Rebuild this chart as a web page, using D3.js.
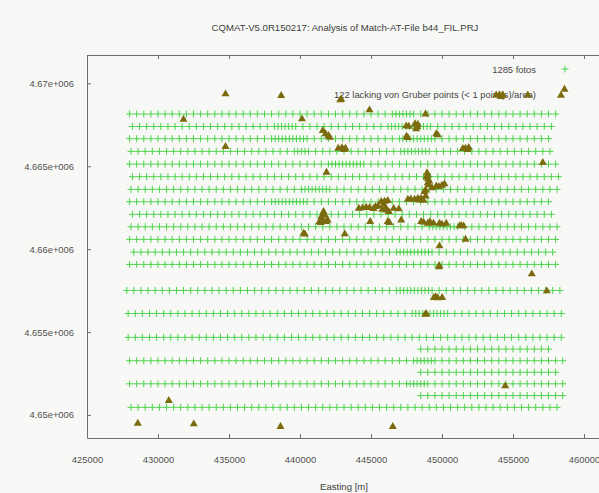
<!DOCTYPE html>
<html>
<head>
<meta charset="utf-8">
<script src="https://cdn.jsdelivr.net/npm/d3@7"></script>
<style>
  html, body { margin: 0; padding: 0; background: #f8f9f6; }
  svg { display: block; }
  text { font-family: "Liberation Sans", Arial, sans-serif; }
</style>
</head>
<body>
<svg id="chart" width="599" height="493"></svg>
<script>
// ---- Labels -------------------------------------------------------------
const chartTitle = "CQMAT-V5.0R150217: Analysis of Match-AT-File b44_FIL.PRJ";
const xAxisTitle = "Easting [m]";
const xTickValues = [425000, 430000, 435000, 440000, 445000, 450000, 455000, 460000];
const yTickValues = [4650000, 4655000, 4660000, 4665000, 4670000];
const yTickLabels = ["4.65e+006", "4.655e+006", "4.66e+006", "4.665e+006", "4.67e+006"];
const legendLabels = ["1285 fotos", "122 lacking von Gruber points (< 1 point(s)/area)"];

// ---- Photo centres: one northing per flight strip, eastings in km -------
const stripNorthing = [
  4668150, 4667400, 4666660, 4665900, 4665130, 4664370, 4663610, 4662860, 4662100,
  4661350, 4660590, 4659820, 4659080,
  4657510, 4656120, 4654680, 4653270, 4651880, 4650460,
  4653975, 4652575, 4651170
];

const stripEastingKm = [
  [428,428.5,429,429.5,430,430.5,431,431.5,432,432.5,433,433.5,434,434.5,435,435.5,436,436.5,437,437.5,438,438.5,439,439.5,440,440.5,441,441.5,442,442.5,443,443.5,444,444.5,445,445.5,446,446.5,447,447.5,448,448.5,449,449.5,450,450.5,451,451.5,452,452.5,453,453.5,454,454.5,455,455.5,456,456.5,457,457.5,458,
   446.75,447.25,447.75],
  [428.2,428.7,429.2,429.7,430.2,430.7,431.2,431.7,432.2,432.7,433.2,433.7,434.2,434.7,435.2,435.7,436.2,436.7,437.2,437.7,438.2,438.7,439.2,439.7,440.2,440.7,441.2,441.7,442.2,442.7,443.2,443.7,444.2,444.7,445.2,445.7,446.2,446.7,447.2,447.7,448.2,448.7,449.2,449.7,450.2,450.7,451.2,451.7,452.2,452.7,453.2,453.7,454.2,454.7,455.2,455.7,456.2,456.7,457.2,457.7,
   438.45,438.95,439.45,446.45,446.95,447.45,447.95,448.45,448.95],
  [428,428.5,429,429.5,430,430.5,431,431.5,432,432.5,433,433.5,434,434.5,435,435.5,436,436.5,437,437.5,438,438.5,439,439.5,440,440.5,441,441.5,442,442.5,443,443.5,444,444.5,445,445.5,446,446.5,447,447.5,448,448.5,449,449.5,450,450.5,451,451.5,452,452.5,453,453.5,454,454.5,455,455.5,456,456.5,457,457.5,
   438.25,438.75,439.25,439.75,440.25,447.25,447.75,448.25,448.75,449.25],
  [428.1,428.6,429.1,429.6,430.1,430.6,431.1,431.6,432.1,432.6,433.1,433.6,434.1,434.6,435.1,435.6,436.1,436.6,437.1,437.6,438.1,438.6,439.1,439.6,440.1,440.6,441.1,441.6,442.1,442.6,443.1,443.6,444.1,444.6,445.1,445.6,446.1,446.6,447.1,447.6,448.1,448.6,449.1,449.6,450.1,450.6,451.1,451.6,452.1,452.6,453.1,453.6,454.1,454.6,455.1,455.6,456.1,456.6,457.1,457.6,
   439.85,440.35,447.35,447.85,448.35,448.85],
  [428,428.5,429,429.5,430,430.5,431,431.5,432,432.5,433,433.5,434,434.5,435,435.5,436,436.5,437,437.5,438,438.5,439,439.5,440,440.5,441,441.5,442,442.5,443,443.5,444,444.5,445,445.5,446,446.5,447,447.5,448,448.5,449,449.5,450,450.5,451,451.5,452,452.5,453,453.5,454,454.5,455,455.5,456,456.5,457,457.5,458,
   442.25,442.75,443.25,443.75,444.25],
  [428.2,428.7,429.2,429.7,430.2,430.7,431.2,431.7,432.2,432.7,433.2,433.7,434.2,434.7,435.2,435.7,436.2,436.7,437.2,437.7,438.2,438.7,439.2,439.7,440.2,440.7,441.2,441.7,442.2,442.7,443.2,443.7,444.2,444.7,445.2,445.7,446.2,446.7,447.2,447.7,448.2,448.7,449.2,449.7,450.2,450.7,451.2,451.7,452.2,452.7,453.2,453.7,454.2,454.7,455.2,455.7,456.2,456.7,457.2,457.7,458.2],
  [428.1,428.6,429.1,429.6,430.1,430.6,431.1,431.6,432.1,432.6,433.1,433.6,434.1,434.6,435.1,435.6,436.1,436.6,437.1,437.6,438.1,438.6,439.1,439.6,440.1,440.6,441.1,441.6,442.1,442.6,443.1,443.6,444.1,444.6,445.1,445.6,446.1,446.6,447.1,447.6,448.1,448.6,449.1,449.6,450.1,450.6,451.1,451.6,452.1,452.6,453.1,453.6,454.1,454.6,455.1,455.6,456.1,456.6,457.1,457.6,458.1,
   440.35,440.85,441.35,441.85],
  [428,428.5,429,429.5,430,430.5,431,431.5,432,432.5,433,433.5,434,434.5,435,435.5,436,436.5,437,437.5,438,438.5,439,439.5,440,440.5,441,441.5,442,442.5,443,443.5,444,444.5,445,445.5,446,446.5,447,447.5,448,448.5,449,449.5,450,450.5,451,451.5,452,452.5,453,453.5,454,454.5,455,455.5,456,456.5,457,457.5,
   438.25,438.75,439.25,439.75,440.25],
  [428.2,428.7,429.2,429.7,430.2,430.7,431.2,431.7,432.2,432.7,433.2,433.7,434.2,434.7,435.2,435.7,436.2,436.7,437.2,437.7,438.2,438.7,439.2,439.7,440.2,440.7,441.2,441.7,442.2,442.7,443.2,443.7,444.2,444.7,445.2,445.7,446.2,446.7,447.2,447.7,448.2,448.7,449.2,449.7,450.2,450.7,451.2,451.7,452.2,452.7,453.2,453.7,454.2,454.7,455.2,455.7,456.2,456.7,457.2,457.7],
  [428.1,428.6,429.1,429.6,430.1,430.6,431.1,431.6,432.1,432.6,433.1,433.6,434.1,434.6,435.1,435.6,436.1,436.6,437.1,437.6,438.1,438.6,439.1,439.6,440.1,440.6,441.1,441.6,442.1,442.6,443.1,443.6,444.1,444.6,445.1,445.6,446.1,446.6,447.1,447.6,448.1,448.6,449.1,449.6,450.1,450.6,451.1,451.6,452.1,452.6,453.1,453.6,454.1,454.6,455.1,455.6,456.1,456.6,457.1,457.6,458.1,
   449.35,449.85,450.35,450.85],
  [428,428.5,429,429.5,430,430.5,431,431.5,432,432.5,433,433.5,434,434.5,435,435.5,436,436.5,437,437.5,438,438.5,439,439.5,440,440.5,441,441.5,442,442.5,443,443.5,444,444.5,445,445.5,446,446.5,447,447.5,448,448.5,449,449.5,450,450.5,451,451.5,452,452.5,453,453.5,454,454.5,455,455.5,456,456.5,457,457.5,458],
  [428.3,428.8,429.3,429.8,430.3,430.8,431.3,431.8,432.3,432.8,433.3,433.8,434.3,434.8,435.3,435.8,436.3,436.8,437.3,437.8,438.3,438.8,439.3,439.8,440.3,440.8,441.3,441.8,442.3,442.8,443.3,443.8,444.3,444.8,445.3,445.8,446.3,446.8,447.3,447.8,448.3,448.8,449.3,449.8,450.3,450.8,451.3,451.8,452.3,452.8,453.3,453.8,454.3,454.8,455.3,455.8,456.3,456.8,457.3,457.8,
   447.05,447.55,448.05,448.55,449.05],
  [428,428.5,429,429.5,430,430.5,431,431.5,432,432.5,433,433.5,434,434.5,435,435.5,436,436.5,437,437.5,438,438.5,439,439.5,440,440.5,441,441.5,442,442.5,443,443.5,444,444.5,445,445.5,446,446.5,447,447.5,448,448.5,449,449.5,450,450.5,451,451.5,452,452.5,453,453.5,454,454.5,455,455.5,456,456.5,457,457.5,458],
  [427.8,428.3,428.8,429.3,429.8,430.3,430.8,431.3,431.8,432.3,432.8,433.3,433.8,434.3,434.8,435.3,435.8,436.3,436.8,437.3,437.8,438.3,438.8,439.3,439.8,440.3,440.8,441.3,441.8,442.3,442.8,443.3,443.8,444.3,444.8,445.3,445.8,446.3,446.8,447.3,447.8,448.3,448.8,449.3,449.8,450.3,450.8,451.3,451.8,452.3,452.8,453.3,453.8,454.3,454.8,455.3,455.8,456.3,456.8,457.3,457.8,458.3,
   447.05,447.55,448.05,448.55,449.05],
  [427.9,428.4,428.9,429.4,429.9,430.4,430.9,431.4,431.9,432.4,432.9,433.4,433.9,434.4,434.9,435.4,435.9,436.4,436.9,437.4,437.9,438.4,438.9,439.4,439.9,440.4,440.9,441.4,441.9,442.4,442.9,443.4,443.9,444.4,444.9,445.4,445.9,446.4,446.9,447.4,447.9,448.4,448.9,449.4,449.9,450.4,450.9,451.4,451.9,452.4,452.9,453.4,453.9,454.4,454.9,455.4,455.9,456.4,456.9,457.4,457.9,458.4,
   448.15,448.65,449.15,449.65,450.15],
  [427.9,428.4,428.9,429.4,429.9,430.4,430.9,431.4,431.9,432.4,432.9,433.4,433.9,434.4,434.9,435.4,435.9,436.4,436.9,437.4,437.9,438.4,438.9,439.4,439.9,440.4,440.9,441.4,441.9,442.4,442.9,443.4,443.9,444.4,444.9,445.4,445.9,446.4,446.9,447.4,447.9,448.4,448.9,449.4,449.9,450.4,450.9,451.4,451.9,452.4,452.9,453.4,453.9,454.4,454.9,455.4,455.9,456.4,456.9,457.4,457.9,458.4],
  [428,428.5,429,429.5,430,430.5,431,431.5,432,432.5,433,433.5,434,434.5,435,435.5,436,436.5,437,437.5,438,438.5,439,439.5,440,440.5,441,441.5,442,442.5,443,443.5,444,444.5,445,445.5,446,446.5,447,447.5,448,448.5,449,449.5,450,450.5,451,451.5,452,452.5,453,453.5,454,454.5,455,455.5,456,456.5,457,457.5,458,458.5,
   448.25,448.75,449.25],
  [428,428.5,429,429.5,430,430.5,431,431.5,432,432.5,433,433.5,434,434.5,435,435.5,436,436.5,437,437.5,438,438.5,439,439.5,440,440.5,441,441.5,442,442.5,443,443.5,444,444.5,445,445.5,446,446.5,447,447.5,448,448.5,449,449.5,450,450.5,451,451.5,452,452.5,453,453.5,454,454.5,455,455.5,456,456.5,457,457.5,458,458.5,
   447.75,448.25,448.75],
  [428.1,428.6,429.1,429.6,430.1,430.6,431.1,431.6,432.1,432.6,433.1,433.6,434.1,434.6,435.1,435.6,436.1,436.6,437.1,437.6,438.1,438.6,439.1,439.6,440.1,440.6,441.1,441.6,442.1,442.6,443.1,443.6,444.1,444.6,445.1,445.6,446.1,446.6,447.1,447.6,448.1,448.6,449.1,449.6,450.1,450.6,451.1,451.6,452.1,452.6,453.1,453.6,454.1,454.6,455.1,455.6,456.1,456.6,457.1,457.6,458.1],
  [448.5,449,449.5,450,450.5,451,451.5,452,452.5,453,453.5,454,454.5,455,455.5,456,456.5,457,457.5],
  [448.5,449,449.5,450,450.5,451,451.5,452,452.5,453,453.5,454,454.5,455,455.5,456,456.5,457,457.5,458],
  [448.5,449,449.5,450,450.5,451,451.5,452,452.5,453,453.5,454,454.5,455,455.5,456,456.5,457,457.5,458,458.5]
];

// ---- Photos lacking von Gruber points (easting / northing, m) -----------
const lackEasting = [
  434754,438676,442831,444894,448838,453817,454282,456042,458627,431796,
  440141,441606,442099,447479,448296,448183,449704,447592,434754,442697,
  443204,451465,451888,457099,441866,449000,449000,449000,449775,450176,
  448768,447592,448064,448535,448697,445718,446183,444141,444662,445176,
  445317,446021,446254,446958,441655,441373,441845,444944,446183,447127,
  448535,449000,449824,450296,451233,451514,440247,443155,451655,449824,
  449789,456324,457380,449423,450014,448817,454451,446535,430761,428577,
  432521,438627,
  448900,449100,448950,449050,
  441500,441600,441750,441450,441950,
  444400,444900,445500,445800,446100,446600,445900,
  447800,448300,448400,448850,
  445950,
  446300,448700,449400,450000,451350,449150,
  447650,448250,448100,447500,449600,
  441800,442000,
  442950,443100,
  451650,451800,
  454050,454150,
  449600,450000,448850,449300,
  440350,
  449700,449550,
  449800,
  448900,
  442900
];
const lackNorthing = [
  4669355,4669252,4668993,4668390,4668148,4669294,4669294,4669294,4669638,4667829,
  4667847,4667141,4666743,4667425,4667527,4667244,4666882,4666719,4666176,4666080,
  4666080,4666056,4666116,4665211,4664632,4664469,4664228,4663987,4663764,4663927,
  4663462,4663004,4663004,4663064,4662932,4662859,4662919,4662461,4662521,4662437,
  4662557,4662461,4662256,4662419,4662256,4661653,4661653,4661653,4661653,4661755,
  4661653,4661557,4661557,4661557,4661394,4661394,4660953,4660911,4660591,4660187,
  4658921,4658499,4657473,4657069,4657069,4656068,4651744,4649289,4650857,4649495,
  4649452,4649289,
  4664350,4664100,4664600,4663880,
  4661950,4661700,4662050,4661600,4661750,
  4662480,4662500,4662600,4662400,4662350,4662450,4662700,
  4663020,4663040,4662950,4663200,
  4662880,
  4661600,4661620,4661560,4661500,4661420,4661650,
  4667400,4667380,4667560,4666800,4666950,
  4666950,4666850,
  4666100,4666000,
  4666080,4666000,
  4669300,4669200,
  4663800,4663850,4663550,4663700,
  4660900,
  4657060,4657120,
  4659000,
  4656100,
  4669050
];

// ---- Layout ---------------------------------------------------------------
const W = 599, H = 493;
const plot = { left: 87, top: 55, bottom: 438 };
const photoColor = "#4ad24a";
const lackColor = "#7b6b0e";
const axisColor = "#6e6e6e";
const labelColor = "#505050";
const fontSize = 9.4;

const x = d3.scaleLinear().domain([425000, 462000]).range([plot.left, plot.left + 37000 / 5000 * 71]);
const y = d3.scaleLinear().domain([4648610, 4671710]).range([plot.bottom, plot.top]);

const svg = d3.select("#chart");
svg.append("rect").attr("width", W).attr("height", H).attr("fill", "#f8f9f6");

// Title
svg.append("text")
  .attr("x", 345).attr("y", 31)
  .attr("text-anchor", "middle")
  .attr("font-size", 9.6)
  .attr("fill", "#3c3c3c")
  .text(chartTitle);

// Axes (ticks point into the plot box)
function styleAxis(g) {
  g.select(".domain").attr("stroke", axisColor);
  g.selectAll(".tick line").attr("stroke", axisColor);
  g.selectAll(".tick text").attr("fill", labelColor).attr("font-size", fontSize)
    .attr("font-family", "'Liberation Sans', Arial, sans-serif");
}

svg.append("g")
  .attr("transform", `translate(0,${plot.bottom})`)
  .call(d3.axisBottom(x).tickValues(xTickValues).tickFormat(d3.format("d"))
    .tickSizeInner(-4).tickSizeOuter(0).tickPadding(18.5))
  .call(styleAxis);

svg.append("g")
  .attr("transform", `translate(0,${plot.top})`)
  .call(d3.axisTop(x).tickValues(xTickValues).tickFormat("")
    .tickSizeInner(-4).tickSizeOuter(0))
  .call(styleAxis);

svg.append("g")
  .attr("transform", `translate(${plot.left},0)`)
  .call(d3.axisLeft(y).tickValues(yTickValues).tickFormat((d, i) => yTickLabels[i])
    .tickSizeInner(-4).tickSizeOuter(0).tickPadding(13))
  .call(styleAxis);

// Axis title
svg.append("text")
  .attr("x", 344).attr("y", 489.5)
  .attr("text-anchor", "middle")
  .attr("font-size", 9.6)
  .attr("fill", "#3c3c3c")
  .text(xAxisTitle);

// Legend text
const legendRight = 536;
const legendY = [69.3, 95];
legendLabels.forEach((label, i) => {
  svg.append("text")
    .attr("x", legendRight).attr("y", legendY[i] + 3.4)
    .attr("text-anchor", "end")
    .attr("font-size", fontSize)
    .attr("fill", "#454545")
    .text(label);
});

// Plus-shaped marker for photo centres
const plusType = {
  draw(ctx, size) {
    const r = Math.sqrt(size) / 2;
    ctx.moveTo(-r, 0); ctx.lineTo(r, 0);
    ctx.moveTo(0, -r); ctx.lineTo(0, r);
  }
};
const plusPath = d3.symbol(plusType, 49)();
const triPath = d3.symbol(d3.symbolTriangle, 28)();

// Legend samples
svg.append("path").attr("d", plusPath)
  .attr("transform", "translate(565,69)")
  .attr("stroke", photoColor).attr("fill", "none").attr("stroke-width", 1);
svg.append("path").attr("d", triPath)
  .attr("transform", "translate(561,95.5)")
  .attr("fill", lackColor);

// Photo centres
const photos = stripEastingKm.flatMap((row, i) =>
  row.map(km => ({ e: km * 1000, n: stripNorthing[i] })));

svg.append("g")
  .selectAll("path")
  .data(photos)
  .join("path")
  .attr("d", plusPath)
  .attr("transform", d => `translate(${x(d.e)},${y(d.n)})`)
  .attr("stroke", photoColor)
  .attr("fill", "none")
  .attr("stroke-width", 1);

// Photos lacking von Gruber points
const lacking = lackEasting.map((e, i) => ({ e, n: lackNorthing[i] }));
svg.append("g")
  .selectAll("path")
  .data(lacking)
  .join("path")
  .attr("d", triPath)
  .attr("transform", d => `translate(${x(d.e)},${y(d.n)})`)
  .attr("fill", lackColor);
</script>
</body>
</html>
